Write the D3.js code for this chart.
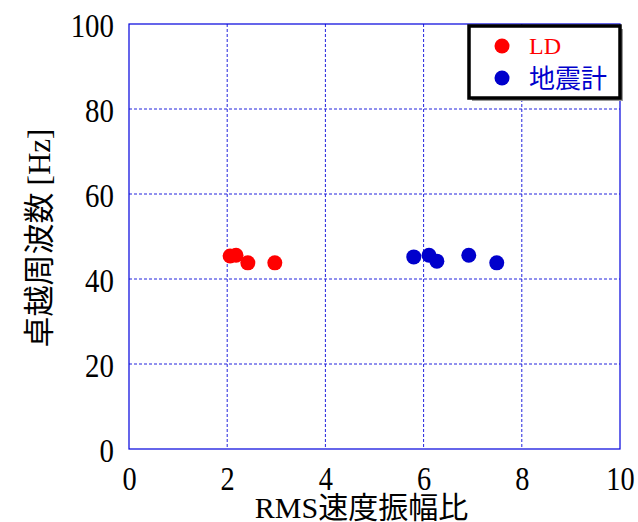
<!DOCTYPE html>
<html><head><meta charset="utf-8">
<script src="https://cdn.jsdelivr.net/npm/d3@7"></script>
<style>body{margin:0;background:#fff}</style>
</head><body>
<svg id="c" width="638" height="522"></svg>
<script>
const xTicks=[0,2,4,6,8,10];
const yTicks=[0,20,40,60,80,100];
const ldX=[2.06,2.18,2.42,2.97];
const ldY=[45.4,45.6,43.8,43.8];
const seisX=[5.80,6.11,6.27,6.92,7.49];
const seisY=[45.2,45.6,44.2,45.6,43.8];
const seriesNames=["LD","地震計"];
const seriesColors=["#ff0000","#0000cc"];

const svg=d3.select("#c");
const L=129,R=620,T=24,B=449;
const x=d3.scaleLinear().domain([0,10]).range([L,R]);
const y=d3.scaleLinear().domain([0,100]).range([B,T]);
const serif="Liberation Serif";
const cjk="Noto Sans CJK JP";

// grid
const g=svg.append("g");
g.selectAll("line.v").data(xTicks.slice(1,-1)).join("line")
 .attr("x1",d=>x(d)).attr("x2",d=>x(d)).attr("y1",T).attr("y2",B)
 .attr("stroke","#2222dd").attr("stroke-width",1).attr("stroke-dasharray","3,2");
g.selectAll("line.h").data(yTicks.slice(1,-1)).join("line")
 .attr("y1",d=>y(d)).attr("y2",d=>y(d)).attr("x1",L).attr("x2",R)
 .attr("stroke","#2222dd").attr("stroke-width",1).attr("stroke-dasharray","3,2");
svg.append("rect").attr("x",L).attr("y",T).attr("width",R-L).attr("height",B-T)
 .attr("fill","none").attr("stroke","#0000dd").attr("stroke-width",1.2);

// axes labels via d3 axis
const xa=svg.append("g").attr("transform",`translate(0,${B})`)
 .call(d3.axisBottom(x).tickValues(xTicks).tickSize(0).tickPadding(0));
xa.attr("font-family",serif);
xa.select(".domain").remove();
xa.selectAll(".tick text").attr("font-family",serif).attr("font-size",33).attr("fill","#000")
 .attr("dy",null).attr("y",0)
 .attr("transform","translate(0,41) scale(0.86,1)");
const ya=svg.append("g").attr("transform",`translate(${L},0)`)
 .call(d3.axisLeft(y).tickValues(yTicks).tickSize(0).tickPadding(0));
ya.attr("font-family",serif);
ya.select(".domain").remove();
ya.selectAll(".tick text").attr("font-family",serif).attr("font-size",34).attr("fill","#000")
 .attr("x",0).attr("dy",null).attr("y",0)
 .attr("transform","translate(-15,12) scale(0.85,1)");

// titles
svg.append("text").attr("x",(L+R)/2-13).attr("y",518).attr("text-anchor","middle")
 .attr("font-size",30).attr("fill","#000")
 .html(`<tspan font-family="${serif}">RMS</tspan><tspan font-family="${cjk}">速度振幅比</tspan>`);
svg.append("text").attr("transform",`translate(50,238) rotate(-90)`).attr("text-anchor","middle")
 .attr("font-size",31).attr("fill","#000")
 .html(`<tspan font-family="${cjk}">卓越周波数 </tspan><tspan font-family="${serif}">[Hz]</tspan>`);

// points
const pts=[ldX.map((v,i)=>({x:v,y:ldY[i],s:0})), seisX.map((v,i)=>({x:v,y:seisY[i],s:1}))].flat();
svg.selectAll("circle.p").data(pts).join("circle")
 .attr("cx",d=>x(d.x)).attr("cy",d=>y(d.y)).attr("r",7.5).attr("fill",d=>seriesColors[d.s]);

// legend
const lg=svg.append("g");
lg.append("rect").attr("x",472).attr("y",29).attr("width",151).attr("height",72).attr("fill","#999");
lg.append("rect").attr("x",469).attr("y",26).attr("width",151).attr("height",72)
 .attr("fill","#fff").attr("stroke","#000").attr("stroke-width",3.5);
seriesNames.forEach((n,i)=>{
  const cy=46+i*32;
  lg.append("circle").attr("cx",502).attr("cy",cy).attr("r",7.5).attr("fill",seriesColors[i]);
  lg.append("text").attr("x",529).attr("y",i==0?cy+8:cy+10).attr("fill",seriesColors[i]).attr("font-size",i==0?24:26)
   .attr("font-family",i==0?serif:cjk).text(n);
});
</script>
</body></html>
